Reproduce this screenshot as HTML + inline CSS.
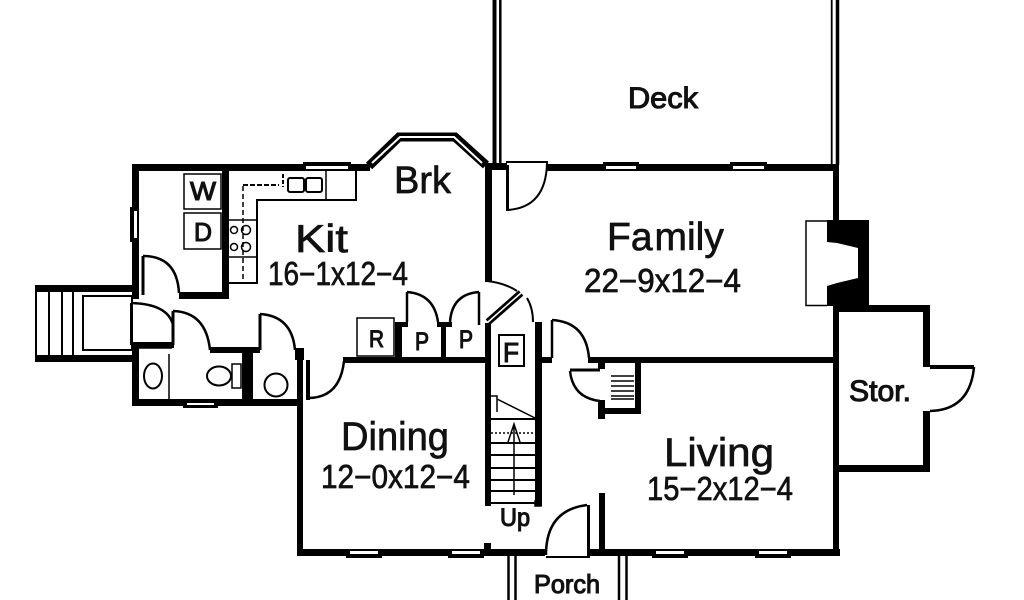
<!DOCTYPE html>
<html><head><meta charset="utf-8"><style>
html,body{margin:0;padding:0;background:#fff;width:1024px;height:600px;overflow:hidden}
svg{display:block}
text{font-family:"Liberation Sans",sans-serif;fill:#111;stroke:#111;stroke-width:.7}
text.h{stroke-width:1.100}
</style></head><body>
<svg width="1024" height="600" viewBox="0 0 1024 600">
<rect width="1024" height="600" fill="#fff"/>
<g fill="#000" stroke="none">
<!-- kitchen walls -->
<rect x="132" y="164" width="238" height="7"/>
<rect x="132" y="164" width="7" height="135"/>
<rect x="222" y="170" width="7" height="128"/>
<rect x="179" y="292" width="50" height="7"/>
<!-- left lower -->
<rect x="132" y="343" width="7" height="63"/>
<rect x="132" y="342" width="42" height="6"/>
<rect x="132" y="399" width="171" height="7"/>
<rect x="242" y="350" width="11" height="56"/>
<rect x="210" y="347" width="50" height="6"/>
<rect x="295" y="348" width="9" height="12"/>
<rect x="297" y="350" width="6" height="205"/>
<rect x="306" y="360" width="4" height="40"/>
<!-- entry stairs -->
<rect x="35" y="285" width="98" height="7"/>
<rect x="35" y="355" width="98" height="7"/>
<rect x="35" y="285" width="2" height="77"/>
<!-- horizontal dining top -->
<rect x="343" y="357" width="143" height="6"/>
<rect x="395" y="322" width="7" height="40"/>
<rect x="395" y="322" width="13" height="5"/>
<rect x="441" y="324" width="5" height="38"/>
<rect x="437" y="322" width="15" height="5"/>
<rect x="485" y="164" width="7" height="118"/>
<rect x="485" y="323" width="6" height="183"/>
<rect x="535" y="322" width="7" height="184"/>
<rect x="541" y="357" width="11" height="6"/>
<rect x="588" y="357" width="246" height="6"/>
<!-- closet -->
<rect x="598" y="362" width="7" height="7"/>
<rect x="635" y="362" width="6" height="52"/>
<rect x="598" y="408" width="43" height="6"/>
<rect x="598" y="400" width="7" height="19"/>
<!-- family top -->
<rect x="485" y="163" width="22" height="7"/>
<rect x="547" y="164" width="290" height="7"/>
<!-- right wall -->
<rect x="833" y="164" width="6" height="57"/>
<rect x="833" y="305" width="6" height="250"/>
<!-- storage -->
<rect x="838" y="305" width="92" height="7"/>
<rect x="923" y="305" width="7" height="62"/>
<rect x="923" y="411" width="7" height="61"/>
<rect x="838" y="465" width="92" height="7"/>
<rect x="930" y="365" width="44" height="4"/>
<!-- front wall -->
<rect x="297" y="549" width="248" height="7"/>
<rect x="588" y="549" width="252" height="7"/>
<rect x="599" y="493" width="6" height="60"/>
<rect x="484" y="543" width="7" height="8"/>
<rect x="587" y="505" width="3" height="52"/>
<rect x="546" y="556" width="44" height="2"/>
<!-- door leaf family -->
<rect x="506" y="165" width="3" height="46"/>
<rect x="506" y="161" width="42" height="2"/>
<!-- fireplace -->
<path d="M827 220H869V306H827V286L837 283L858 278V248L837 243L827 242Z"/>
<!-- windows black -->
<rect x="303" y="162" width="48" height="9"/>
<rect x="603" y="162" width="36" height="9"/>
<rect x="730" y="162" width="37" height="9"/>
<rect x="130" y="207" width="7" height="35"/>
<rect x="183" y="401" width="35" height="7"/>
<rect x="346" y="549" width="36" height="9"/>
<rect x="448" y="549" width="36" height="9"/>
<rect x="652" y="549" width="36" height="9"/>
<rect x="755" y="549" width="36" height="9"/>
</g>
<g fill="#fff" stroke="none">
<rect x="306" y="166" width="42" height="3"/>
<rect x="606" y="166" width="30" height="3"/>
<rect x="733" y="166" width="31" height="3"/>
<rect x="134" y="211" width="3" height="27"/>
<rect x="187" y="403" width="27" height="2"/>
<rect x="350" y="551" width="28" height="3"/>
<rect x="452" y="551" width="28" height="3"/>
<rect x="656" y="551" width="28" height="3"/>
<rect x="759" y="551" width="28" height="3"/>
</g>
<path d="M827 221H806V305.500H827" fill="none" stroke="#000" stroke-width="1.500"/>
<g fill="none" stroke="#000">
<!-- bay -->
<path d="M369 166L399 137H455L486 165" stroke-width="9"/>
<path d="M372 163L400 137H454L482 163" stroke="#fff" stroke-width="2"/>
<!-- deck -->
<path d="M494.500 0V165" stroke-width="4"/>
<path d="M500.300 0V165" stroke-width="2.500"/>
<path d="M831.700 0V165" stroke-width="1.800"/>
<path d="M837.500 0V165" stroke-width="3.500"/>
<!-- porch -->
<path d="M508.500 555V600M515.500 555V600M619 555V600M626.500 555V600" stroke-width="2.500"/>
<!-- door arcs -->
<path d="M507 210Q546 208 547 163" stroke-width="2"/>
<path d="M143 256Q177 256 179 293" stroke-width="2.500"/>
<path d="M143 256V295" stroke-width="3"/>
<path d="M131 303Q168 304 173 325" stroke-width="2.500"/>
<path d="M131 303V345M131 345H172" stroke-width="2"/>
<path d="M173 311Q206 312 210 350" stroke-width="2.500"/>
<path d="M173 311V345" stroke-width="3"/>
<path d="M260 314Q292 316 295 350" stroke-width="2.500"/>
<path d="M260 314V350" stroke-width="3"/>
<path d="M308 398Q340 398 344 361" stroke-width="2.500"/>
<path d="M407 292Q434 294 438 322" stroke-width="2.500"/>
<path d="M407 292V322" stroke-width="2.500"/>
<path d="M479 292Q452 294 450 322" stroke-width="2.500"/>
<path d="M479 292V325" stroke-width="2.500"/>
<path d="M487 281Q505 283 517 291" stroke-width="2"/>
<path d="M488 322L521 293" stroke-width="7"/>
<path d="M488 322L521 293" stroke="#fff" stroke-width="1.500"/>
<path d="M527 298Q533 308 533 322" stroke-width="2"/>
<path d="M552 320Q586 322 589 358" stroke-width="2.500"/>
<path d="M552 320V358" stroke-width="2.500"/>
<path d="M570 371Q573 398 600 401" stroke-width="2.500"/>
<path d="M570 370H600" stroke-width="3"/>
<path d="M546 555Q546 510 587 505" stroke-width="2.500"/>
<path d="M930 411Q970 410 974 367" stroke-width="2.500"/>
<!-- entry stairs -->
<path d="M49 291V356M62 291V356M73 291V356" stroke-width="2"/>
<rect x="83" y="296" width="49" height="54" stroke-width="2"/>
<!-- W D boxes -->
<rect x="184" y="174" width="37" height="35" stroke-width="1.500"/>
<rect x="184" y="213" width="37" height="36" stroke-width="1.500"/>
<!-- counter -->
<path d="M356 171V200H257V283H229" stroke-width="2"/>
<path d="M229 220H257M229 257H257M326 171V200" stroke-width="1.500"/>
<path d="M243 186V283" stroke-width="1.500" stroke-dasharray="5 3"/>
<path d="M243 185H279" stroke-width="2" stroke-dasharray="5 2"/>
<path d="M283 174V187" stroke-width="2" stroke-dasharray="4 2"/>
<rect x="288" y="178" width="16" height="14" rx="2" stroke-width="2"/>
<rect x="306" y="178" width="16" height="14" rx="2" stroke-width="2"/>
<circle cx="234" cy="230" r="3.500" stroke-width="1.500"/>
<circle cx="246" cy="230" r="4.500" stroke-width="1.500"/>
<circle cx="234" cy="247" r="3.500" stroke-width="1.500"/>
<circle cx="246" cy="247" r="4.500" stroke-width="1.500"/>
<!-- bath -->
<path d="M169 354V400" stroke-width="1.500"/>
<ellipse cx="153" cy="376" rx="9" ry="12.500" stroke-width="2"/>
<ellipse cx="219" cy="376" rx="12" ry="9.500" stroke-width="2"/>
<rect x="232" y="364" width="9" height="24" stroke-width="1.500"/>
<circle cx="276" cy="385" r="11.500" stroke-width="2"/>
<path d="M139 348H172" stroke-width="1.500"/>
<!-- R P boxes -->
<rect x="357" y="318" width="37" height="38" stroke-width="1.500"/>
<rect x="499" y="335" width="25" height="31" stroke-width="2"/>
<!-- stairs -->
<path d="M491 419H535M491 443H535M491 455H535M491 468H535M491 480H535M491 491H535M491 503H535" stroke-width="2"/>
<path d="M491 433H535" stroke-width="1.500" stroke-dasharray="2 2"/>
<path d="M497 399L535 418" stroke-width="1.500"/>
<path d="M491 396H497V412" stroke-width="1.500"/>
<path d="M514 495V424M508 442L514 424L520 442" stroke-width="1.500"/>
<rect x="535" y="501" width="6" height="5" stroke-width="1.500"/>
<!-- closet shelves -->
<path d="M611 376H634M611 381H634M611 386H634M611 391H634M611 396H634M611 399H634" stroke-width="1.500"/>
</g>
<g>
<text x="628" y="108" font-size="30" class="h" textLength="70" lengthAdjust="spacingAndGlyphs">Deck</text>
<text x="394" y="193" font-size="38" textLength="57" lengthAdjust="spacingAndGlyphs">Brk</text>
<text x="295" y="252" font-size="39" textLength="53" lengthAdjust="spacingAndGlyphs">Kit</text>
<text x="268" y="285" font-size="33" textLength="140" lengthAdjust="spacingAndGlyphs">16−1x12−4</text>
<text x="607" y="250" font-size="39">Fa<tspan dx="2">mily</tspan></text>
<text x="584" y="292" font-size="33" textLength="157" lengthAdjust="spacingAndGlyphs">22−9x12−4</text>
<text x="341" y="450" font-size="40" textLength="108" lengthAdjust="spacingAndGlyphs">Dining</text>
<text x="321" y="488" font-size="33" textLength="149" lengthAdjust="spacingAndGlyphs">12−0x12−4</text>
<text x="664" y="466" font-size="40" textLength="110" lengthAdjust="spacingAndGlyphs">Living</text>
<text x="647" y="500" font-size="33" textLength="146" lengthAdjust="spacingAndGlyphs">15−2x12−4</text>
<text x="849" y="401" font-size="30" class="h" textLength="62" lengthAdjust="spacingAndGlyphs">Stor.</text>
<text x="534" y="593" font-size="26" class="h" textLength="66" lengthAdjust="spacingAndGlyphs">Porch</text>
<text x="500" y="526" font-size="25" class="h" textLength="30" lengthAdjust="spacingAndGlyphs">Up</text>
<text x="190" y="200" font-size="26" class="h" textLength="26" lengthAdjust="spacingAndGlyphs">W</text>
<text x="194" y="241" font-size="26" class="h" textLength="18" lengthAdjust="spacingAndGlyphs">D</text>
<text x="369" y="347" font-size="24" class="h" textLength="15" lengthAdjust="spacingAndGlyphs">R</text>
<text x="415" y="350" font-size="25" class="h" textLength="14" lengthAdjust="spacingAndGlyphs">P</text>
<text x="459" y="348" font-size="25" class="h" textLength="14" lengthAdjust="spacingAndGlyphs">P</text>
<text x="503" y="362" font-size="28" class="h" textLength="16" lengthAdjust="spacingAndGlyphs">F</text>
</g>
</svg>
</body></html>
